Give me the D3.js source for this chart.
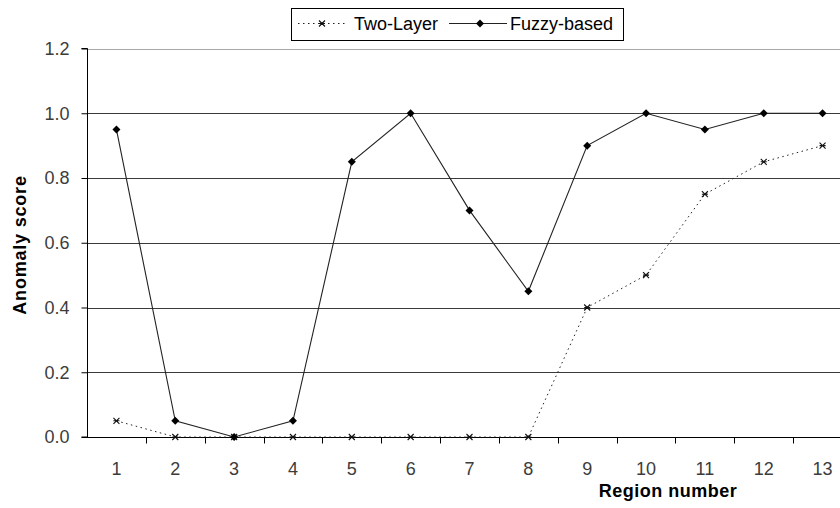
<!DOCTYPE html>
<html>
<head>
<meta charset="utf-8">
<script src="https://cdn.jsdelivr.net/npm/d3@7/dist/d3.min.js"></script>
<style>
  html, body { margin: 0; padding: 0; background: #fff; }
  svg { display: block; font-family: "Liberation Sans", Arial, sans-serif; }
</style>
</head>
<body>
<svg id="chart" width="840" height="508"></svg>
<script>
// Region numbers along the x axis
const regions = [1, 2, 3, 4, 5, 6, 7, 8, 9, 10, 11, 12, 13];
// Anomaly scores for each detector
const twoLayer = [0.05, 0, 0, 0, 0, 0, 0, 0, 0.4, 0.5, 0.75, 0.85, 0.9];
const fuzzyBased = [0.95, 0.05, 0, 0.05, 0.85, 1.0, 0.7, 0.45, 0.9, 1.0, 0.95, 1.0, 1.0];
const yTicks = [0, 0.2, 0.4, 0.6, 0.8, 1.0, 1.2];
const seriesNames = ["Two-Layer", "Fuzzy-based"];

const svg = d3.select("#chart");
const W = 840, H = 508;
const plotL = 87, plotR = 852, plotT = 48.5, plotB = 437;

const x = d3.scaleBand().domain(regions).range([plotL, plotR]);
const y = d3.scaleLinear().domain([0, 1.2]).range([plotB, plotT]);
const cx = d => x(d) + x.bandwidth() / 2;

// Horizontal gridlines
svg.append("g").selectAll("line").data(yTicks.filter(t => t > 0)).join("line")
  .attr("x1", plotL).attr("x2", W)
  .attr("y1", d => Math.round(y(d)) + 0.5).attr("y2", d => Math.round(y(d)) + 0.5)
  .attr("stroke", d => d === 1.2 ? "#a8a8a8" : "#3a3a3a")
  .attr("stroke-width", 1);

// Y axis
const yAxis = d3.axisLeft(y).tickValues(yTicks).tickFormat(d3.format(".1f")).tickSize(6).tickPadding(12);
const gy = svg.append("g").attr("transform", `translate(${plotL + 0.5},0)`).call(yAxis);
gy.select(".domain").attr("stroke", "#000").attr("d", `M-6,${plotT}H0V${plotB}H-6`);
gy.selectAll(".tick line").attr("stroke", "#000");
gy.selectAll(".tick text").attr("fill", "#3c3c3c").style("font-size", "18px")
  .style("font-family", "Liberation Sans, Arial, sans-serif");

// X axis: ticks at band boundaries, labels at band centres
const gx = svg.append("g").attr("transform", `translate(0,${Math.round(plotB) + 0.5})`);
gx.append("line").attr("x1", plotL).attr("x2", W).attr("stroke", "#000");
gx.selectAll("line.tk").data(regions.slice(1)).join("line").attr("class", "tk")
  .attr("x1", d => Math.round(x(d)) + 0.5).attr("x2", d => Math.round(x(d)) + 0.5)
  .attr("y1", 0).attr("y2", 6).attr("stroke", "#000");
gx.selectAll("text").data(regions).join("text")
  .attr("x", cx).attr("y", 37.5)
  .attr("text-anchor", "middle").attr("fill", "#3c3c3c").style("font-size", "18px")
  .text(d => d);

// Axis titles
svg.append("text").attr("x", 668).attr("y", 497).attr("text-anchor", "middle")
  .style("font-size", "18px").style("font-weight", "bold").style("letter-spacing", "0.5px").attr("fill", "#000")
  .text("Region number");
svg.append("text").attr("transform", `translate(26,245) rotate(-90)`).attr("text-anchor", "middle")
  .style("font-size", "18px").style("font-weight", "bold").style("letter-spacing", "0.8px").attr("fill", "#000")
  .text("Anomaly score");

const line = d3.line().x((d, i) => cx(regions[i])).y(d => y(d));

// Two-Layer: dotted line with asterisk markers
svg.append("path").datum(twoLayer).attr("d", line)
  .attr("fill", "none").attr("stroke", "#222").attr("stroke-width", 1).attr("stroke-dasharray", "1.5,3.5");

function star(g, px, py) {
  const s = 3;
  g.append("path")
    .attr("d", `M${px - s},${py - s}L${px + s},${py + s}M${px - s},${py + s}L${px + s},${py - s}M${px - s},${py}H${px + s}`)
    .attr("stroke", "#111").attr("stroke-width", 1.1).attr("fill", "none");
}
const gStars = svg.append("g");
twoLayer.forEach((v, i) => star(gStars, cx(regions[i]), y(v)));

// Fuzzy-based: solid line with diamond markers
svg.append("path").datum(fuzzyBased).attr("d", line)
  .attr("fill", "none").attr("stroke", "#222").attr("stroke-width", 1.1);
const diamond = (px, py, s) => `M${px},${py - s}L${px + s},${py}L${px},${py + s}L${px - s},${py}Z`;
svg.append("g").selectAll("path").data(fuzzyBased).join("path")
  .attr("d", (v, i) => diamond(cx(regions[i]), y(v), 4))
  .attr("fill", "#000");

// Legend
const lg = svg.append("g");
lg.append("rect").attr("x", 291.5).attr("y", 8.5).attr("width", 332).attr("height", 32)
  .attr("fill", "#fff").attr("stroke", "#000");
lg.append("line").attr("x1", 298).attr("x2", 348).attr("y1", 23.5).attr("y2", 23.5)
  .attr("stroke", "#222").attr("stroke-dasharray", "1.5,3.5");
star(lg, 322, 23.5);
lg.append("text").attr("x", 354).attr("y", 30).style("font-size", "18px").attr("fill", "#000").text(seriesNames[0]);
lg.append("line").attr("x1", 449).attr("x2", 507).attr("y1", 23.5).attr("y2", 23.5).attr("stroke", "#222").attr("stroke-width", 1.1);
lg.append("path").attr("d", diamond(480, 23.5, 4)).attr("fill", "#000");
lg.append("text").attr("x", 510).attr("y", 30).style("font-size", "18px").attr("fill", "#000").text(seriesNames[1]);
</script>
</body>
</html>
